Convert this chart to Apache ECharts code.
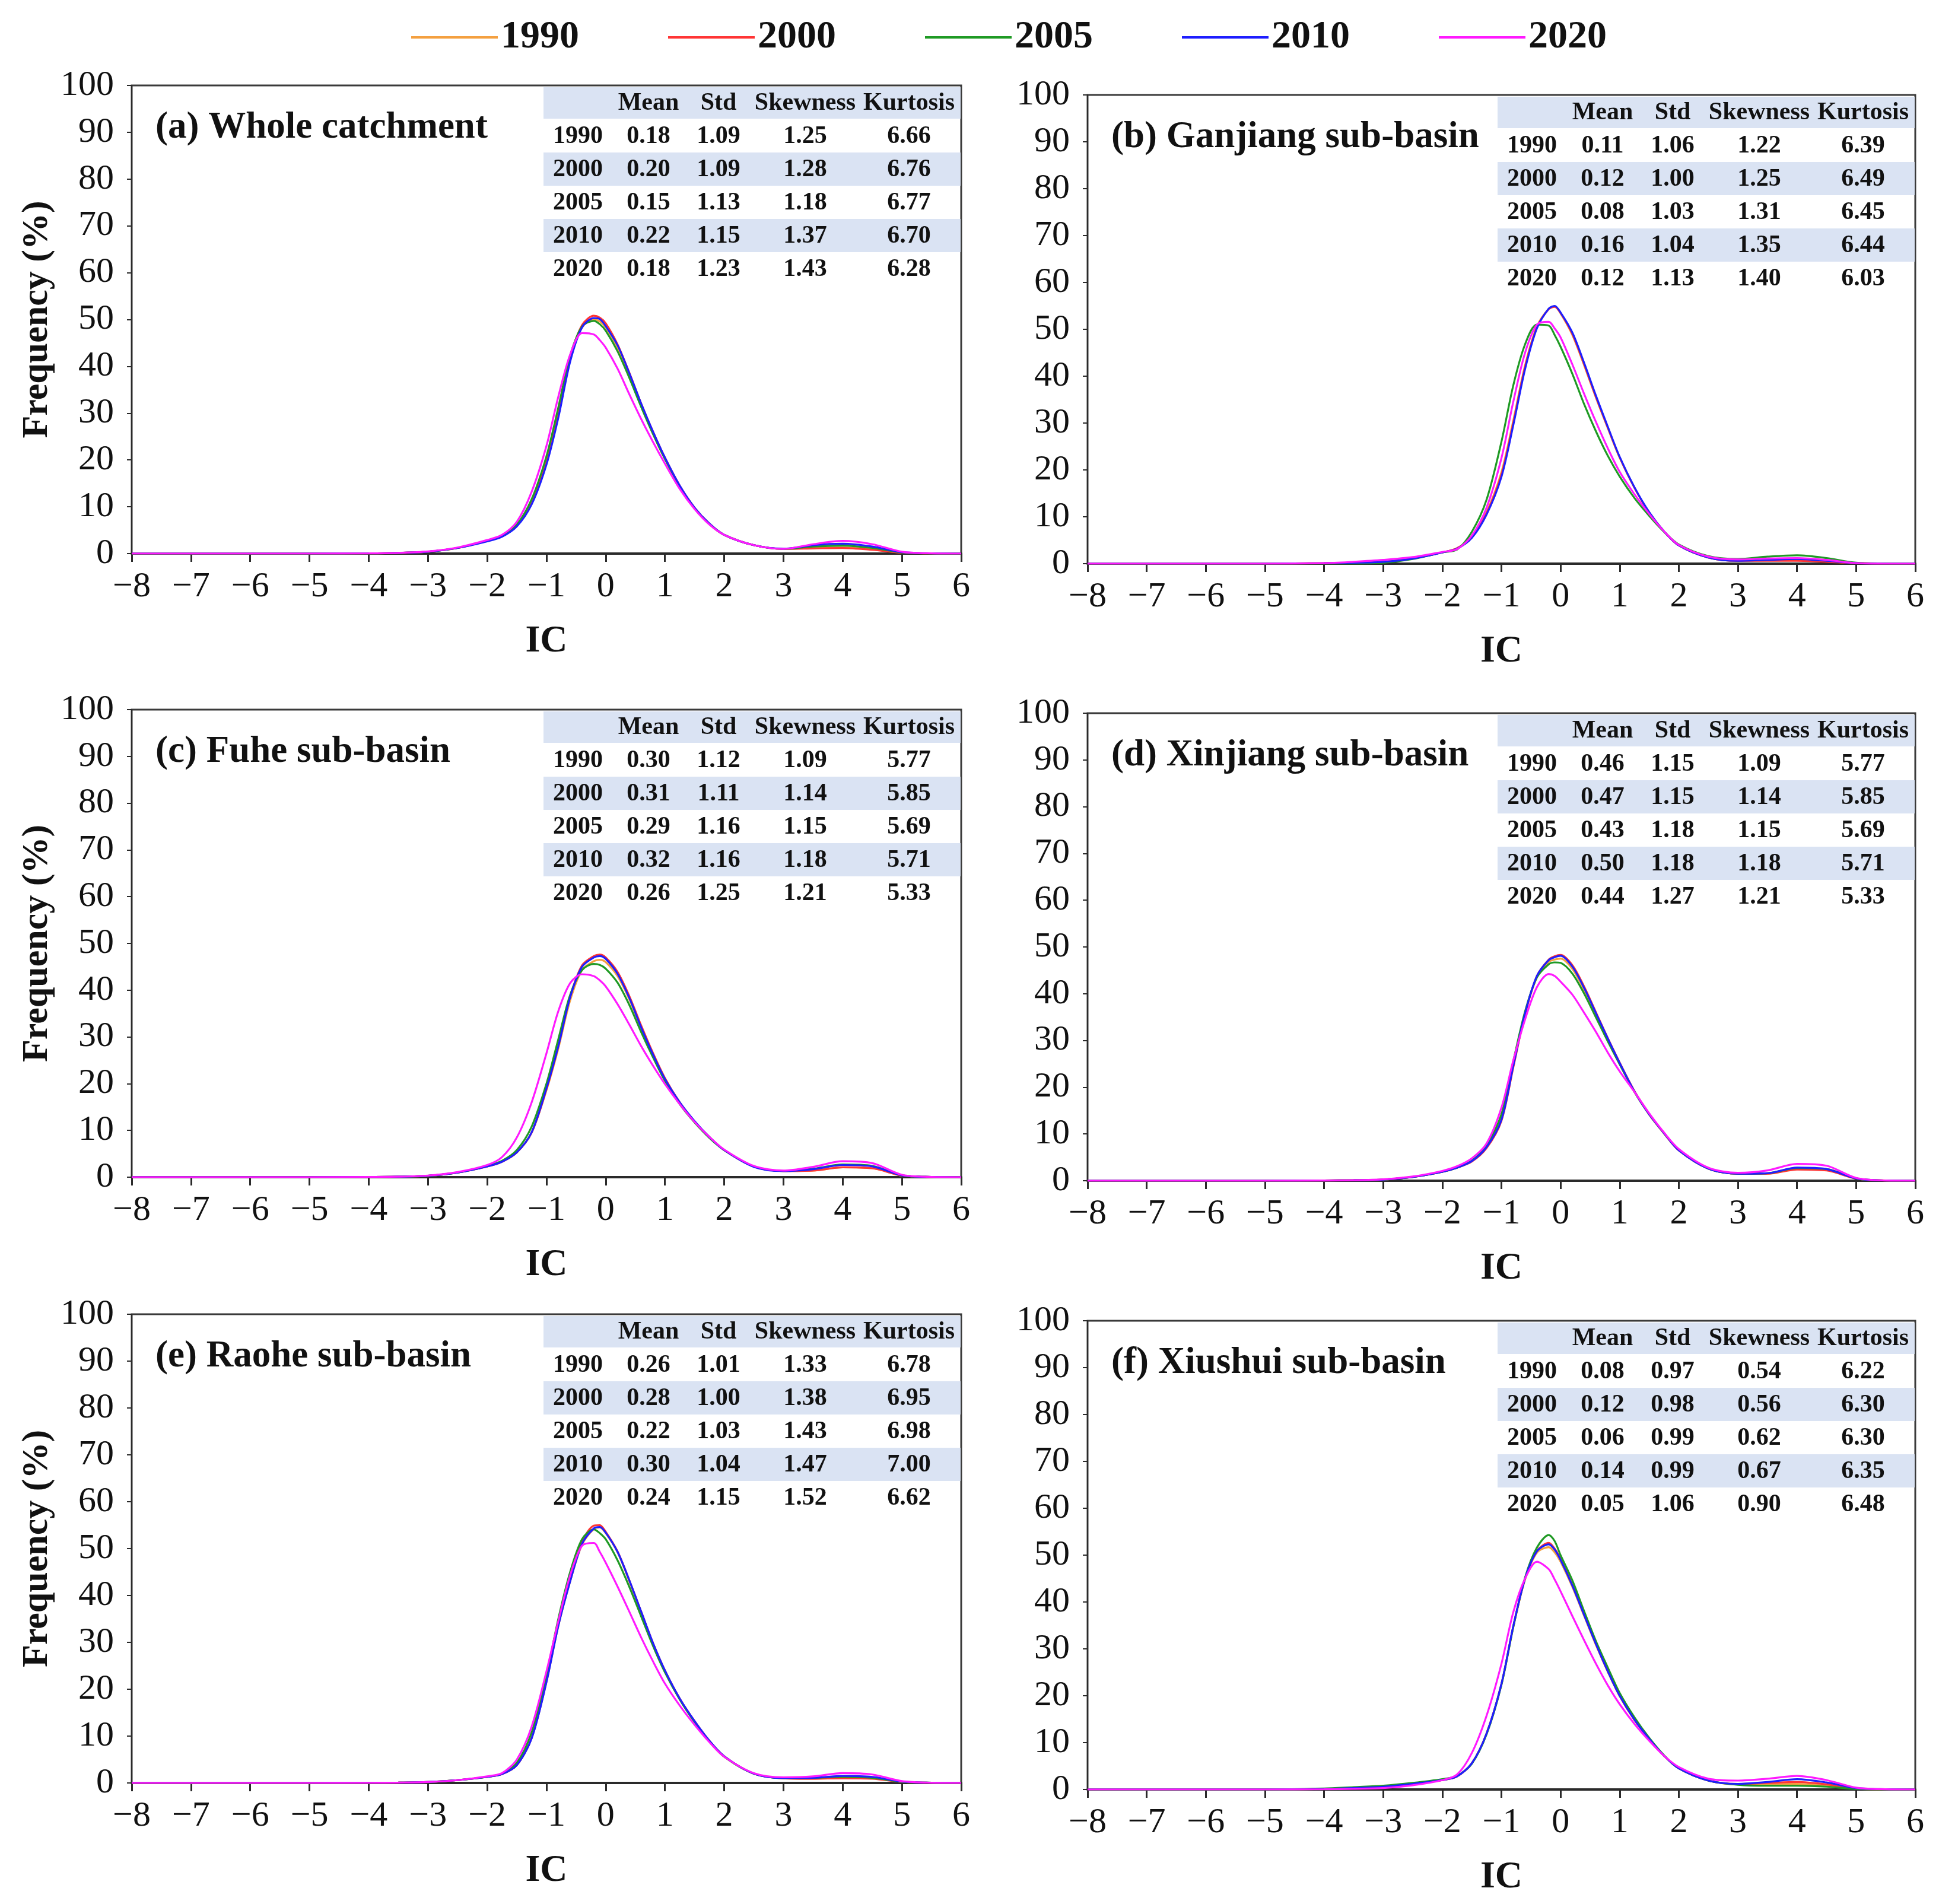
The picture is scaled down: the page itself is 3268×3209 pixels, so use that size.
<!DOCTYPE html>
<html>
<head>
<meta charset="utf-8">
<script src="https://cdn.jsdelivr.net/npm/echarts@6/dist/echarts.min.js"></script>
<style>html,body{margin:0;padding:0;background:#fff}#c{width:3268px;height:3209px}</style>
</head>
<body>
<div id="c"></div>
<script>
// ---------- data ----------
const years = ['1990', '2000', '2005', '2010', '2020'];
const xGrid = [-8,-7,-6,-5,-4,-3.5,-3,-2.5,-2,-1.75,-1.5,-1.25,-1,-0.8,-0.6,-0.4,-0.2,-0.1,0,0.2,0.4,0.6,0.8,1,1.25,1.5,1.75,2,2.5,3,3.5,4,4.5,5,5.5,6];
const xTicks = [-8,-7,-6,-5,-4,-3,-2,-1,0,1,2,3,4,5,6];
const yTicks = [0,10,20,30,40,50,60,70,80,90,100];
const titles = ['(a) Whole catchment','(b) Ganjiang sub-basin','(c) Fuhe sub-basin','(d) Xinjiang sub-basin','(e) Raohe sub-basin','(f) Xiushui sub-basin'];
const statHeader = ['Mean','Std','Skewness','Kurtosis'];

// (a) Whole catchment
const a1990 = [0,0,0,0,0.05,0.15,0.4,1.2,2.7,3.7,6.0,11.0,19.8,30,41.5,48.3,50.0,49.6,48.3,44.0,38.0,31.6,25.6,20.2,14.3,9.7,6.3,4.0,1.8,1.0,1.2,1.3,0.9,0.2,0.03,0];
const a2000 = [0,0,0,0,0.05,0.15,0.4,1.2,2.7,3.7,6.0,11.0,19.8,30.2,41.8,48.8,50.8,50.4,49.2,44.7,38.6,32.0,26.0,20.5,14.5,9.8,6.4,4.0,1.8,1.0,1.1,1.2,0.8,0.2,0.03,0];
const a2005 = [0,0,0,0,0.05,0.15,0.4,1.2,2.8,3.8,6.2,11.6,20.8,31.2,42.3,48.5,49.7,49.0,47.6,43.2,37.5,31.3,25.5,20.2,14.3,9.7,6.3,4.0,1.8,1.0,1.5,1.7,1.2,0.25,0.04,0];
const a2010 = [0,0,0,0,0.05,0.15,0.4,1.2,2.6,3.6,5.8,10.5,19,29,41,48.3,50.3,50.1,48.6,44.5,38.5,32.0,26.0,20.5,14.5,9.8,6.4,4.0,1.8,1.05,1.8,2.1,1.5,0.3,0.05,0];
const a2020 = [0,0,0,0,0.05,0.15,0.45,1.3,2.9,4.0,6.8,13.2,23.0,33.5,42.5,47.1,46.8,45.6,44.0,39.5,34.0,28.7,23.8,19.2,13.8,9.5,6.2,4.0,1.8,1.0,2.0,2.7,2.0,0.4,0.05,0];
// (b) Ganjiang
const b1990 = [0,0,0,0,0.1,0.2,0.4,1.1,2.4,3.3,5.7,11.0,19.5,30.5,42.3,50.6,54.4,54.9,53.4,48.8,42.3,35.4,28.9,22.6,16.2,10.9,6.9,3.9,1.3,0.6,0.7,0.8,0.5,0.1,0,0];
const b2000 = [0,0,0,0,0.1,0.2,0.4,1.1,2.4,3.3,5.6,10.8,19.0,30.0,42.0,50.4,54.3,54.8,53.5,49.0,42.5,35.5,29.0,22.7,16.2,10.9,6.9,3.9,1.3,0.6,0.6,0.6,0.4,0.1,0,0];
const b2005 = [0,0,0,0,0,0,0.2,1.0,2.4,3.0,6.8,13.7,26.0,38.0,46.8,51.0,50.8,48.8,46.3,40.5,34.0,28.2,23.0,18.6,14.0,10.2,6.8,4.1,1.6,1.0,1.5,1.8,1.2,0.2,0.05,0];
const b2010 = [0,0,0,0,0.1,0.2,0.4,1.1,2.4,3.2,5.5,10.5,18.5,29.5,41.5,50.2,54.4,55.0,53.6,49.3,42.8,35.8,29.2,22.8,16.3,11.0,6.9,3.9,1.3,0.6,0.8,1.0,0.6,0.1,0,0];
const b2020 = [0,0,0,0,0.1,0.4,0.8,1.4,2.5,3.1,6.0,12.0,22.5,34.5,45.0,51.0,51.6,50.2,48.3,42.5,36.2,30.2,24.6,19.6,14.8,10.6,6.9,4.0,1.5,0.9,1.1,1.2,0.8,0.1,0,0];
// (c) Fuhe
const c1990 = [0,0,0,0,0.05,0.1,0.3,1.0,2.3,3.3,5.3,9.6,18.6,27.5,37.8,44.3,46.2,46.5,46.0,43.0,38.0,31.8,26.0,20.9,15.8,11.8,8.5,5.8,2.3,1.3,1.4,2.1,1.9,0.35,0.05,0];
const c2000 = [0,0,0,0,0.05,0.1,0.3,1.0,2.3,3.3,5.3,9.5,18.8,28.0,38.6,45.3,47.3,47.6,47.0,43.9,38.7,32.4,26.5,21.2,16.0,11.9,8.6,5.8,2.3,1.3,1.4,2.1,1.9,0.35,0.05,0];
const c2005 = [0,0,0,0,0.05,0.1,0.3,1.0,2.4,3.5,5.8,10.8,20.0,29.5,39.0,44.3,45.6,45.4,44.6,41.6,36.8,31.0,25.6,20.6,15.6,11.7,8.4,5.8,2.3,1.3,1.8,2.7,2.4,0.4,0.05,0];
const c2010 = [0,0,0,0,0.05,0.1,0.3,1.0,2.3,3.3,5.3,9.6,19.0,28.0,38.5,45.0,47.0,47.3,46.7,43.5,38.3,32.0,26.2,21.0,16.0,12.0,8.6,5.8,2.2,1.3,1.7,2.6,2.3,0.4,0.05,0];
const c2020 = [0,0,0,0,0.05,0.1,0.35,1.1,2.6,4.3,8.5,16.0,26.5,35.5,41.5,43.4,43.0,42.1,40.8,37.0,32.6,28.0,23.8,19.9,15.6,11.8,8.6,5.9,2.4,1.4,2.2,3.4,3.0,0.5,0.05,0];
// (d) Xinjiang
const d1990 = [0,0,0,0,0.05,0.1,0.25,0.8,1.9,2.8,4.2,7.3,13.3,24.7,35.8,43.5,46.8,47.3,47.5,45.3,40.8,35.5,30.2,25.0,19.0,14.1,10.1,6.5,2.6,1.5,1.5,2.5,2.3,0.45,0.05,0];
const d2000 = [0,0,0,0,0.05,0.1,0.25,0.8,1.9,2.8,4.1,7.0,12.8,24.2,35.6,43.8,47.3,48.0,48.3,46.1,41.5,36.0,30.5,25.3,19.2,14.3,10.2,6.5,2.6,1.5,1.5,2.4,2.2,0.45,0.05,0];
const d2005 = [0,0,0,0,0.05,0.1,0.25,0.8,1.9,2.8,4.3,7.6,14.2,25.5,36.2,43.5,46.3,46.7,46.6,44.3,40.0,34.9,29.8,24.9,19.0,14.2,10.2,6.6,2.6,1.5,1.6,2.7,2.5,0.5,0.05,0];
const d2010 = [0,0,0,0,0.05,0.1,0.25,0.8,1.9,2.8,4.2,7.2,13.0,24.5,35.8,43.8,47.2,47.8,48.1,45.8,41.2,35.8,30.4,25.2,19.1,14.2,10.2,6.5,2.6,1.5,1.6,2.8,2.5,0.5,0.05,0];
const d2020 = [0,0,0,0,0.05,0.1,0.3,0.9,2.1,3.1,4.8,8.0,15.6,25.7,34.5,41.4,44.2,43.8,42.6,39.8,35.9,31.8,27.4,23.4,19.0,14.4,10.3,6.8,2.8,1.7,2.2,3.6,3.2,0.6,0.05,0];
// (e) Raohe
const e1990 = [0,0,0,0,0.03,0.08,0.2,0.6,1.3,1.9,3.8,9.6,21.6,33.5,43.0,50.8,54.2,54.5,53.3,49.2,43.0,36.4,29.7,23.9,17.9,13.1,8.9,5.6,2.0,1.0,0.9,1.1,1.0,0.25,0.05,0];
const e2000 = [0,0,0,0,0.03,0.08,0.2,0.6,1.3,1.9,3.8,9.6,21.8,33.8,43.5,51.5,54.9,55.0,53.6,49.4,43.2,36.5,29.8,24.0,18.0,13.2,9.0,5.7,2.0,1.0,0.9,1.0,0.9,0.25,0.05,0];
const e2005 = [0,0,0,0,0.03,0.08,0.2,0.6,1.3,2.0,4.3,10.8,23.0,35.0,45.0,52.0,54.1,53.3,52.0,47.5,41.8,35.5,29.2,23.6,17.8,13.0,8.9,5.6,2.0,1.05,1.1,1.3,1.1,0.25,0.05,0];
const e2010 = [0,0,0,0,0.03,0.08,0.2,0.6,1.3,1.9,3.8,9.5,21.5,33.5,43.0,51.0,54.3,54.6,53.4,49.3,43.2,36.5,29.8,24.0,18.0,13.2,9.0,5.7,2.0,1.05,1.1,1.5,1.3,0.3,0.05,0];
const e2020 = [0,0,0,0,0.03,0.08,0.2,0.6,1.4,2.1,5.0,12.0,23.8,34.5,44.3,50.6,51.2,49.3,47.0,41.9,36.5,31.0,25.9,21.2,16.5,12.4,8.7,5.6,2.1,1.2,1.4,2.1,1.8,0.4,0.05,0];
// (f) Xiushui
const f1990 = [0,0,0,0,0.1,0.3,0.6,1.2,2.0,2.8,5.6,12.0,22.4,34.6,44.8,50.5,51.7,50.6,48.6,43.2,37.0,30.8,25.1,19.9,14.8,10.8,7.2,4.5,1.9,1.1,1.2,1.2,0.8,0.15,0.03,0];
const f2000 = [0,0,0,0,0.1,0.3,0.6,1.2,2.0,2.8,5.6,12.0,22.5,34.8,45.0,50.9,52.6,51.4,49.2,43.6,37.3,31.0,25.2,20.0,14.9,10.8,7.2,4.5,1.9,1.2,1.4,1.6,1.1,0.2,0.03,0];
const f2005 = [0,0,0,0,0.2,0.5,0.8,1.4,2.2,2.9,5.5,11.8,22.3,34.6,45.2,51.6,54.3,53.0,50.0,44.6,38.0,31.6,26.0,20.6,15.4,11.0,7.3,4.5,1.9,1.0,0.8,0.8,0.6,0.1,0.02,0];
const f2010 = [0,0,0,0,0.1,0.3,0.6,1.2,2.0,2.8,5.6,12.0,22.5,34.8,45.0,50.8,52.3,51.2,49.0,43.5,37.2,31.0,25.2,20.0,14.9,10.8,7.2,4.5,1.9,1.2,1.6,2.2,1.5,0.3,0.05,0];
const f2020 = [0,0,0,0,0.05,0.15,0.3,0.9,2.0,3.2,7.8,15.8,26.8,37.8,45.0,48.6,47.0,44.8,42.3,37.0,31.8,26.8,22.2,18.2,14.0,10.4,7.2,4.8,2.3,1.9,2.3,2.9,2.0,0.4,0.05,0];

// statistics tables: [Mean, Std, Skewness, Kurtosis] per year
const statsA = [[0.18,1.09,1.25,6.66],[0.20,1.09,1.28,6.76],[0.15,1.13,1.18,6.77],[0.22,1.15,1.37,6.70],[0.18,1.23,1.43,6.28]];
const statsB = [[0.11,1.06,1.22,6.39],[0.12,1.00,1.25,6.49],[0.08,1.03,1.31,6.45],[0.16,1.04,1.35,6.44],[0.12,1.13,1.40,6.03]];
const statsC = [[0.30,1.12,1.09,5.77],[0.31,1.11,1.14,5.85],[0.29,1.16,1.15,5.69],[0.32,1.16,1.18,5.71],[0.26,1.25,1.21,5.33]];
const statsD = [[0.46,1.15,1.09,5.77],[0.47,1.15,1.14,5.85],[0.43,1.18,1.15,5.69],[0.50,1.18,1.18,5.71],[0.44,1.27,1.21,5.33]];
const statsE = [[0.26,1.01,1.33,6.78],[0.28,1.00,1.38,6.95],[0.22,1.03,1.43,6.98],[0.30,1.04,1.47,7.00],[0.24,1.15,1.52,6.62]];
const statsF = [[0.08,0.97,0.54,6.22],[0.12,0.98,0.56,6.30],[0.06,0.99,0.62,6.30],[0.14,0.99,0.67,6.35],[0.05,1.06,0.90,6.48]];

// ---------- layout / style ----------
const FONT = 'Liberation Serif';
const colors = ['#F4A040', '#FF3535', '#1F9A24', '#1E1EFF', '#FF1AFF'];
const gridBoxes = [
  {left: 222, top: 144, width: 1398, height: 789},
  {left: 1833, top: 160, width: 1395, height: 790},
  {left: 222, top: 1196, width: 1398, height: 788},
  {left: 1833, top: 1202, width: 1395, height: 788},
  {left: 222, top: 2215, width: 1398, height: 790},
  {left: 1833, top: 2226, width: 1395, height: 790}
];
const panelCurves = [
  [a1990, a2000, a2005, a2010, a2020],
  [b1990, b2000, b2005, b2010, b2020],
  [c1990, c2000, c2005, c2010, c2020],
  [d1990, d2000, d2005, d2010, d2020],
  [e1990, e2000, e2005, e2010, e2020],
  [f1990, f2000, f2005, f2010, f2020]
];
const panelStats = [statsA, statsB, statsC, statsD, statsE, statsF];

const grids = [], xAxes = [], yAxes = [], series = [], graphics = [];
const minus = v => String(v).replace('-', '\u2212');

gridBoxes.forEach((g, i) => {
  grids.push(Object.assign({show: true, borderColor: '#3a3a3a', borderWidth: 3, backgroundColor: 'transparent'}, g));
  xAxes.push({
    type: 'value', gridIndex: i, min: xTicks[0], max: xTicks[xTicks.length - 1], interval: 1,
    axisLine: {onZero: false, lineStyle: {color: '#2a2a2a', width: 4}},
    axisTick: {length: 14, lineStyle: {color: '#2a2a2a', width: 3}},
    axisLabel: {fontSize: 60, margin: 26, color: '#111', fontFamily: FONT, formatter: minus},
    splitLine: {show: false},
    name: 'IC', nameLocation: 'middle', nameGap: 116,
    nameTextStyle: {fontSize: 64, fontWeight: 'bold', fontFamily: FONT, color: '#111'}
  });
  yAxes.push({
    type: 'value', gridIndex: i, min: yTicks[0], max: yTicks[yTicks.length - 1], interval: 10,
    axisLine: {show: true, onZero: false, lineStyle: {color: '#2a2a2a', width: 2}},
    axisTick: {show: true, length: 8, lineStyle: {color: '#2a2a2a', width: 2}},
    axisLabel: {fontSize: 60, margin: 30, color: '#111', fontFamily: FONT},
    splitLine: {show: false},
    name: (i % 2 === 0) ? 'Frequency (%)' : '', nameLocation: 'middle', nameGap: 128,
    nameTextStyle: {fontSize: 62, fontWeight: 'bold', fontFamily: FONT, color: '#111'}
  });
  panelCurves[i].forEach((vals, k) => {
    series.push({
      type: 'line', name: years[k], xAxisIndex: i, yAxisIndex: i,
      data: xGrid.map((x, j) => [x, vals[j]]),
      smooth: 0.3, symbol: 'none', showSymbol: false, clip: true,
      lineStyle: {width: 3.2, color: colors[k]}, itemStyle: {color: colors[k]},
      z: 3 + k
    });
  });

  // title
  const L = g.left, T = g.top, R = g.left + g.width;
  graphics.push({type: 'text', z: 20, style: {text: titles[i], x: L + 40, y: T + 72, align: 'left', verticalAlign: 'middle', font: 'bold 63px "Liberation Serif"', fill: '#111'}});

  // table
  const bandL = R - 704, bandW = 703;
  graphics.push({type: 'rect', z: 10, silent: true, shape: {x: bandL, y: T + 3, width: bandW, height: 53}, style: {fill: '#DAE3F3'}});
  graphics.push({type: 'rect', z: 10, silent: true, shape: {x: bandL, y: T + 113, width: bandW, height: 56}, style: {fill: '#DAE3F3'}});
  graphics.push({type: 'rect', z: 10, silent: true, shape: {x: bandL, y: T + 225, width: bandW, height: 56}, style: {fill: '#DAE3F3'}});
  const colX = [R - 646, R - 527, R - 409, R - 263, R - 88];
  statHeader.forEach((h, c) => {
    graphics.push({type: 'text', z: 21, style: {text: h, x: colX[c + 1], y: T + 30, align: 'center', verticalAlign: 'middle', font: 'bold 42px "Liberation Serif"', fill: '#111'}});
  });
  panelStats[i].forEach((row, r) => {
    const y = T + 86 + r * 56;
    graphics.push({type: 'text', z: 21, style: {text: years[r], x: colX[0], y: y, align: 'center', verticalAlign: 'middle', font: 'bold 42px "Liberation Serif"', fill: '#111'}});
    row.forEach((v, c) => {
      graphics.push({type: 'text', z: 21, style: {text: v.toFixed(2), x: colX[c + 1], y: y, align: 'center', verticalAlign: 'middle', font: 'bold 42px "Liberation Serif"', fill: '#111'}});
    });
  });
});

const chart = echarts.init(document.getElementById('c'), null, {renderer: 'canvas'});
chart.setOption({
  animation: false,
  backgroundColor: '#fff',
  legend: {
    data: years, left: 688, top: 20, icon: 'rect', itemWidth: 146, itemHeight: 4, itemGap: 150,
    textStyle: {fontSize: 66, fontWeight: 'bold', fontFamily: FONT, color: '#111', lineHeight: 76}
  },
  grid: grids, xAxis: xAxes, yAxis: yAxes, series: series, graphic: graphics
});
</script>
</body>
</html>
